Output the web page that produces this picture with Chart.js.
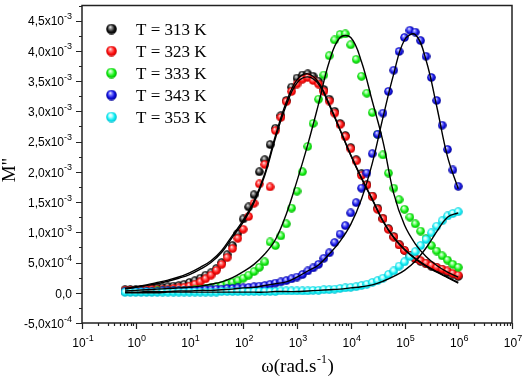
<!DOCTYPE html>
<html>
<head>
<meta charset="utf-8">
<script src="https://cdn.jsdelivr.net/npm/chart.js@4"></script>
<style>
  html, body { margin: 0; padding: 0; background: #fff; }
</style>
</head>
<body>
<canvas id="myChart" width="524" height="378"></canvas>
<script>
// angular frequency (rad/s) of the measured points
const freq = [
  0.631, 0.794, 1, 1.259, 1.585, 1.995, 2.512, 3.162, 3.981, 5.012,
  6.31, 7.943, 10, 12.59, 15.85, 19.95, 25.12, 31.62, 39.81, 50.12,
  63.1, 79.43, 100, 125.9, 158.5, 199.5, 251.2, 316.2, 398.1, 501.2,
  631, 794.3, 1000, 1259, 1585, 1995, 2512, 3162, 3981, 5012,
  6310, 7943, 10000, 12590, 15850, 19950, 25120, 31620, 39810, 50120,
  63100, 79430, 100000, 125900, 158500, 199500, 251200, 316200, 398100, 501200,
  631000, 794300, 1000000
];

// M'' in units of 1e-3
const m313 = [
  .05, .05, .05, .06, .06, .07, .08, .09, .10, .11,
  .12, .14, .17, .20, .24, .29, .33, .40, .50, .63,
  .78, .98, 1.22, 1.42, 1.62, 2.00, 2.20, 2.45, 2.72, 2.93,
  3.18, 3.40, 3.55, 3.60, 3.62, 3.58, 3.50, 3.36, 3.20, 3.00,
  2.80, 2.60, 2.40, 2.20, 1.97, 1.79, 1.60, 1.40, 1.23, 1.06,
  .93, .80, .70, .62, .56, .52, .48, .44, .41, .38,
  .34, .31, .27
];
const m323 = [
  .04, .04, .04, .05, .05, .05, .05, .05, .06, .07,
  .08, .09, .11, .14, .18, .23, .29, .37, .47, .58,
  .73, .90, 1.05, 1.26, 1.48, 1.80, 2.12, 1.75, 2.68, 2.90,
  3.16, 3.33, 3.45, 3.53, 3.56, 3.51, 3.45, 3.33, 3.17, 2.97,
  2.78, 2.58, 2.38, 2.18, 1.94, 1.78, 1.59, 1.38, 1.22, 1.05,
  .92, .79, .70, .62, .57, .53, .49, .45, .42, .39,
  .36, .32, .29
];
const m333 = [
  .02, .02, .02, .02, .02, .02, .03, .03, .03, .03,
  .03, .04, .04, .05, .06, .07, .08, .10, .12, .15,
  .17, .20, .24, .29, .35, .42, .51, .84, .78, .94,
  1.14, 1.40, 1.68, 2.00, 2.42, 2.80, 3.20, 3.60, 3.92, 4.18,
  4.27, 4.28, 4.10, 3.86, 3.58, 3.30, 2.98, 2.62, 2.28, 1.98,
  1.73, 1.54, 1.38, 1.25, 1.14, 1.02, .90, .78, .69, .61,
  .54, .47, .42
];
const m343 = [
  .02, .02, .02, .02, .02, .02, .02, .03, .03, .03,
  .03, .03, .04, .04, .04, .05, .05, .06, .06, .07,
  .07, .08, .08, .09, .10, .11, .12, .14, .16, .18,
  .20, .23, .26, .30, .36, .41, .47, .57, .66, .83,
  .97, 1.11, 1.32, 1.49, 1.73, 1.98, 2.30, 2.62, 2.97, 3.33,
  3.68, 3.99, 4.22, 4.34, 4.31, 4.17, 3.91, 3.56, 3.18, 2.77,
  2.37, 2.03, 1.76
];
const m353 = [
  .01, .01, .01, .01, .01, .01, .01, .01, .01, .01,
  .01, .01, .01, .01, .01, .01, .01, .01, .02, .02,
  .02, .02, .02, .02, .02, .02, .02, .02, .02, .03,
  .03, .03, .03, .03, .03, .04, .04, .05, .05, .06,
  .07, .08, .09, .10, .12, .14, .17, .20, .24, .30,
  .36, .44, .51, .60, .68, .78, .88, .99, 1.10, 1.19,
  1.27, 1.31, 1.34
];

// fitted curves (same units)
const fitFreq = [
  0.631, 1, 1.585, 2.512, 3.981, 6.31, 10, 15.85, 25.12, 39.81,
  63.1, 100, 158.5, 251.2, 398.1, 631, 1000, 1585, 2512, 3981,
  6310, 10000, 15850, 25120, 39810, 63100, 100000, 158500, 251200, 398100,
  631000, 1000000
];
const fit313 = [.07, .10, .13, .17, .21, .26, .33, .42, .53, .70, .95, 1.20, 1.52, 1.97, 2.60, 3.15, 3.52, 3.62, 3.48, 3.12, 2.70, 2.28, 1.90, 1.55, 1.19, .92, .72, .57, .45, .35, .26, .17];
const fit323 = [.06, .09, .12, .15, .19, .24, .30, .39, .50, .67, .92, 1.17, 1.49, 1.94, 2.56, 3.10, 3.47, 3.57, 3.45, 3.10, 2.69, 2.27, 1.89, 1.54, 1.18, .91, .71, .56, .44, .34, .25, .16];
const fit333 = [.03, .04, .05, .06, .07, .08, .09, .11, .14, .18, .25, .35, .47, .64, .88, 1.30, 1.85, 2.45, 3.12, 3.82, 4.22, 4.22, 3.82, 3.17, 2.50, 1.64, 1.12, .81, .60, .45, .34, .26];
const fit343 = [.01, .01, .02, .02, .02, .03, .03, .04, .04, .05, .06, .08, .09, .12, .15, .18, .26, .36, .46, .64, .85, 1.13, 1.55, 2.14, 2.90, 3.62, 4.18, 4.27, 3.85, 3.08, 2.25, 1.72];
const fit353 = [0, 0, 0, 0, .01, .01, .01, .01, .01, .01, .01, .01, .01, .01, .02, .02, .02, .03, .04, .05, .06, .08, .10, .13, .19, .27, .37, .52, .74, 1.01, 1.25, 1.32];

const seriesLabels = ['T = 313 K', 'T = 323 K', 'T = 333 K', 'T = 343 K', 'T = 353 K'];

const xTickVals = [0.1, 1, 10, 100, 1000, 1e4, 1e5, 1e6, 1e7];
const xTickExps = ['-1', '0', '1', '2', '3', '4', '5', '6', '7'];
const yTickVals = [-0.5, 0, 0.5, 1, 1.5, 2, 2.5, 3, 3.5, 4, 4.5];
const yTickLabels = ['-5,0x10', '0,0', '5,0x10', '1,0x10', '1,5x10', '2,0x10', '2,5x10', '3,0x10', '3,5x10', '4,0x10', '4,5x10'];
const yTickExps = ['-4', '', '-4', '-3', '-3', '-3', '-3', '-3', '-3', '-3', '-3'];

const shades = [
  ['#8a8a8a', '#141414', '#000000'],
  ['#ff7a7a', '#ff1010', '#c40000'],
  ['#a0ffa0', '#14f014', '#00b000'],
  ['#7a7aff', '#1212e0', '#000090'],
  ['#c0ffff', '#14f0f4', '#00bcd0']
];

function ball(sh, size) {
  const c = document.createElement('canvas');
  c.width = size; c.height = size;
  const g = c.getContext('2d');
  const r = size / 2;
  const grad = g.createRadialGradient(r * 0.75, r * 0.6, 0, r, r, r);
  grad.addColorStop(0, '#ffffff');
  grad.addColorStop(0.3, sh[0]);
  grad.addColorStop(0.65, sh[1]);
  grad.addColorStop(1, sh[2]);
  g.fillStyle = grad;
  g.beginPath();
  g.arc(r, r, r - 0.2, 0, Math.PI * 2);
  g.fill();
  return c;
}

const pointBalls = shades.map(s => ball(s, 9));
const legendBalls = shades.map(s => ball(s, 11));

const measured = [m313, m323, m333, m343, m353];
const fits = [fit313, fit323, fit333, fit343, fit353];

const datasets = [];
measured.forEach((arr, i) => {
  datasets.push({
    label: seriesLabels[i],
    data: arr.map((v, k) => ({ x: freq[k], y: v })),
    showLine: false,
    pointStyle: pointBalls[i],
    pointRadius: 4.5,
    order: 6 - i
  });
});
fits.forEach((arr, i) => {
  datasets.push({
    label: 'fit ' + seriesLabels[i],
    data: arr.map((v, k) => ({ x: fitFreq[k], y: v })),
    showLine: true,
    borderColor: '#000',
    borderWidth: 1.4,
    pointRadius: 0,
    tension: 0.4,
    order: 0
  });
});

const sans = '"Liberation Sans", Arial, sans-serif';
const serif = '"Liberation Serif", "Times New Roman", serif';

const decor = {
  id: 'decor',
  afterDraw(chart) {
    const { ctx, chartArea: a, scales: { x, y } } = chart;
    ctx.save();
    ctx.strokeStyle = '#222';
    ctx.fillStyle = '#000';

    // frame
    ctx.lineWidth = 1.5;
    ctx.strokeRect(a.left, a.top, a.right - a.left, a.bottom - a.top);

    // y ticks
    ctx.lineWidth = 1.2;
    ctx.beginPath();
    for (let v = -0.5; v <= 4.76; v += 0.25) {
      const py = Math.round(y.getPixelForValue(v)) + 0.5;
      const major = Math.abs(v * 2 - Math.round(v * 2)) < 1e-6;
      ctx.moveTo(a.left, py);
      ctx.lineTo(a.left - (major ? 6 : 3), py);
    }
    // x ticks
    for (let n = -1; n <= 6; n++) {
      for (let m = 1; m <= 9; m++) {
        const px = Math.round(x.getPixelForValue(m * Math.pow(10, n))) + 0.5;
        ctx.moveTo(px, a.bottom);
        ctx.lineTo(px, a.bottom + (m === 1 ? 6 : 3));
      }
    }
    const pe = Math.round(x.getPixelForValue(1e7)) + 0.5;
    ctx.moveTo(pe, a.bottom);
    ctx.lineTo(pe, a.bottom + 6);
    ctx.stroke();

    // y tick labels
    yTickVals.forEach((v, i) => {
      const py = y.getPixelForValue(v);
      const right = a.left - 10;
      ctx.font = '9px ' + sans;
      const we = yTickExps[i] ? ctx.measureText(yTickExps[i]).width : 0;
      if (yTickExps[i]) {
        ctx.textAlign = 'left';
        ctx.fillText(yTickExps[i], right - we, py - 1.5);
      }
      ctx.font = '12px ' + sans;
      ctx.textAlign = 'right';
      ctx.fillText(yTickLabels[i], right - we, py + 4.8);
    });

    // x tick labels
    xTickVals.forEach((v, i) => {
      const px = x.getPixelForValue(v);
      ctx.font = '12px ' + sans;
      const wm = ctx.measureText('10').width;
      ctx.font = '9px ' + sans;
      const we = ctx.measureText(xTickExps[i]).width;
      const left = px - (wm + we) / 2 + 1;
      ctx.textAlign = 'left';
      ctx.fillText(xTickExps[i], left + wm, 341);
      ctx.font = '12px ' + sans;
      ctx.fillText('10', left, 347);
    });

    // axis titles
    ctx.font = '19px ' + serif;
    const t1 = 'ω(rad.s', t2 = '-1', t3 = ')';
    const w1 = ctx.measureText(t1).width;
    const w3 = ctx.measureText(t3).width;
    ctx.font = '12px ' + serif;
    const w2 = ctx.measureText(t2).width;
    let tx = 297 - (w1 + w2 + w3) / 2;
    ctx.textAlign = 'left';
    ctx.font = '19px ' + serif;
    ctx.fillText(t1, tx, 372);
    ctx.font = '12px ' + serif;
    ctx.fillText(t2, tx + w1 + 0.5, 363);
    ctx.font = '19px ' + serif;
    ctx.fillText(t3, tx + w1 + w2 + 1, 372);

    ctx.save();
    ctx.translate(15, 170);
    ctx.rotate(-Math.PI / 2);
    ctx.textAlign = 'center';
    ctx.fillText('M"', 0, 0);
    ctx.restore();

    // legend
    ctx.font = '17px ' + serif;
    ctx.textAlign = 'left';
    seriesLabels.forEach((lab, i) => {
      const ly = 29 + i * 22;
      ctx.drawImage(legendBalls[i], 106, ly - 5.5);
      ctx.fillText(lab, 136, ly + 5.5);
    });
    ctx.restore();
  }
};

const ctx = document.getElementById('myChart');
const myChart = new Chart(ctx, {
  type: 'scatter',
  data: { datasets: datasets },
  options: {
    responsive: false,
    animation: false,
    devicePixelRatio: 1,
    layout: { padding: { top: 2, right: 12, left: 0, bottom: 0 } },
    plugins: { legend: { display: false }, tooltip: { enabled: false } },
    scales: {
      x: {
        type: 'logarithmic',
        min: 0.1,
        max: 1e7,
        grid: { display: false },
        border: { display: false },
        ticks: { display: false },
        afterBuildTicks(s) { s.ticks = xTickVals.map(v => ({ value: v })); },
        afterFit(s) { s.height = 55; }
      },
      y: {
        min: -0.5,
        max: 4.75,
        grid: { display: false },
        border: { display: false },
        ticks: { display: false },
        afterFit(s) { s.width = 82; }
      }
    }
  },
  plugins: [decor]
});
</script>
</body>
</html>
